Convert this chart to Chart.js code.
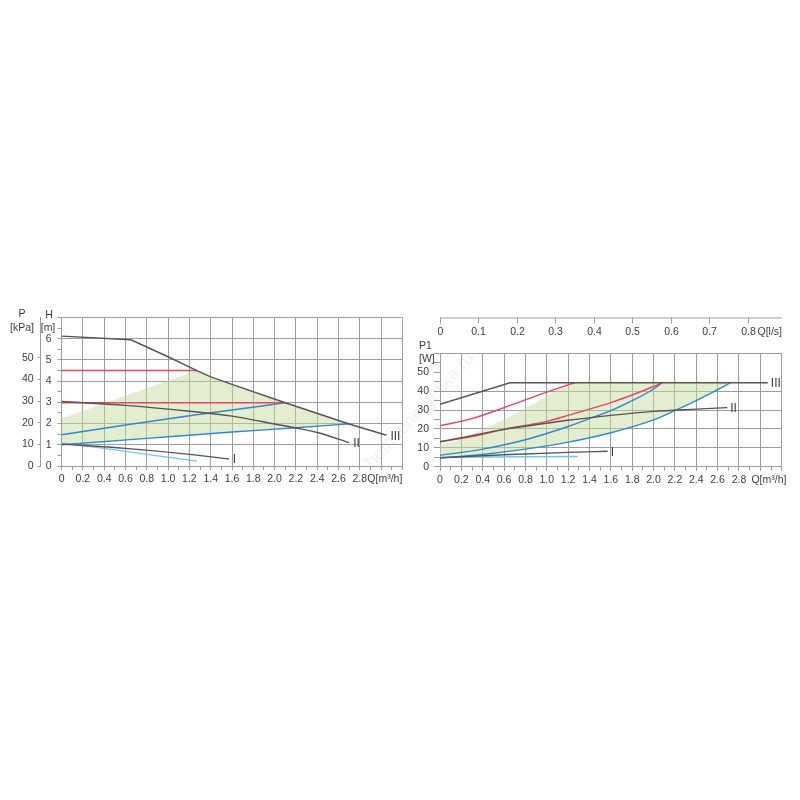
<!DOCTYPE html>
<html>
<head>
<meta charset="utf-8">
<script src="https://cdn.jsdelivr.net/npm/chart.js@4"></script>
<style>
  html, body { margin: 0; padding: 0; background: #fff; }
  #wrap { position: relative; width: 800px; height: 800px; overflow: hidden; }
  #left { position: absolute; left: 0; top: 300px; }
  #right { position: absolute; left: 400px; top: 300px; }
  #wm { position: absolute; left: 420px; top: 410px; transform: translate(-50%, -50%) rotate(-47deg);
        font: 18px "Liberation Sans", Arial, sans-serif; color: rgba(0,0,0,0.06); white-space: nowrap; }
</style>
</head>
<body>
<div id="wrap">
  <canvas id="left" width="410" height="200"></canvas>
  <canvas id="right" width="400" height="200"></canvas>
  <div id="wm">homeenergetika.ru</div>
</div>
<script>
// ---------- axis labels ----------
const qLabels = ['0','0.2','0.4','0.6','0.8','1.0','1.2','1.4','1.6','1.8','2.0','2.2','2.4','2.6','2.8'];
const qUnit = 'Q[m³/h]';
const hLabels = ['0','1','2','3','4','5','6'];
const pKpaLabels = [0, 10, 20, 30, 40, 50];
const p1Labels = [0, 10, 20, 30, 40, 50];
const lsTicks = [0, 0.1, 0.2, 0.3, 0.4, 0.5, 0.6, 0.7, 0.8];
const lsUnit = 'Q[l/s]';

// ---------- left chart: head H [m] vs Q [m3/h] ----------
const hIII = [[0,6.12],[0.65,5.95],[1.0,5.15],[1.27,4.5],[1.4,4.2],[1.6,3.85],[2.1,2.98],[2.7,1.98],[3.05,1.45]];
const hII = [[0,3.04],[0.6,2.86],[1.2,2.58],[1.6,2.35],[2.0,1.98],[2.4,1.58],[2.7,1.1]];
const hI = [[0,1.03],[0.6,0.83],[1.2,0.55],[1.57,0.33]];
const hRedMax = [[0,4.5],[1.27,4.5]];
const hRedMid = [[0,2.98],[2.1,2.98]];
const hBlueUpper = [[0,1.47],[0.6,1.93],[1.2,2.37],[1.6,2.64],[2.1,2.98]];
const hBlueLower = [[0,1.0],[0.8,1.3],[1.6,1.6],[2.2,1.8],[2.71,1.99]];
const hLightBlue = [[0,1.08],[0.4,0.83],[0.8,0.55],[1.27,0.23]];
const hAreaTop = [[0,2.24],[1.27,4.5],[1.4,4.2],[1.6,3.85],[2.1,2.98],[2.71,1.99]];

// ---------- right chart: power P1 [W] vs Q [m3/h] ----------
const pIII = [[0,33.1],[0.655,44.5],[3.07,44.5]];
const pII = [[0,13.2],[0.3,16.5],[0.6,19.8],[1.0,23],[1.2,24.6],[1.6,27.2],[2.0,29.3],[2.4,30.5],[2.69,31.3]];
const pI = [[0,4.7],[0.6,6.3],[1.2,7.6],[1.57,8.2]];
const pRedMax = [[0,21.7],[0.3,25.5],[0.6,31.3],[0.9,37.5],[1.1,41.5],[1.26,44.5]];
const pRedMid = [[0,13.2],[0.3,16],[0.6,19.8],[1.0,24],[1.2,27.2],[1.4,30.5],[1.6,34],[1.8,38],[2.0,42.5],[2.08,44.5]];
const pBlueUpper = [[0,6],[0.4,9.3],[0.8,14.3],[1.2,21.3],[1.45,26.5],[1.6,29.7],[1.8,35],[2.0,41.2],[2.08,44.5]];
const pBlueLower = [[0,4.6],[0.4,6.5],[0.8,9.3],[1.2,13],[1.6,18],[2.0,24.8],[2.2,29.8],[2.4,35],[2.6,40.8],[2.72,44.5]];
const pLightBlue = [[0,5.0],[1.29,5.4]];
const pAreaTop = [[0,11.5],[0.2,14.5],[0.43,20.5],[0.62,25.5],[0.9,34],[1.1,41],[1.22,44.5],[2.72,44.5]];

// ---------- styles ----------
const DARK = '#585354', RED = '#e6475f', BLUE = '#3089cc', LBLUE = '#6dc8ef';
const GREEN = 'rgba(196, 218, 156, 0.48)', GRID = '#9d9d9d', TEXT = '#3c3c3c', NONE = 'rgba(0,0,0,0)';
const FONT = '"Liberation Sans", Arial, sans-serif';
const FS = 10.5;
Chart.defaults.font.family = FONT;
Chart.defaults.color = TEXT;

function pts(arr) { return arr.map(([x, y]) => ({ x, y })); }
function line(arr, color, extra) {
  return Object.assign({ data: pts(arr), borderColor: color, borderWidth: 1.4, pointRadius: 0,
    showLine: true, fill: false, tension: 0 }, extra || {});
}
function area(top, bottom) {
  const poly = [bottom[0]].concat(top, bottom.slice().reverse());
  return { data: pts(poly), showLine: true, fill: 'shape', backgroundColor: GREEN, borderWidth: 0,
    borderColor: NONE, pointRadius: 0, tension: 0, order: 100 };
}

function qScale(unitPos, height) {
  return {
    type: 'linear', min: 0, max: 3.2, position: 'bottom',
    afterBuildTicks: s => {
      const t = [];
      for (let i = 0; i <= 32; i++) t.push({ value: i / 10 });
      t.push({ value: unitPos });
      t.sort((a, b) => a.value - b.value);
      s.ticks = t;
    },
    afterFit: s => { s.height = height; },
    ticks: {
      autoSkip: false, maxRotation: 0, minRotation: 0, padding: 3, color: TEXT, font: { size: FS },
      callback: (v, i, arr) => {
        if (Math.abs(v - unitPos) < 1e-9 && arr.filter(t => Math.abs(t.value - unitPos) < 1e-9).length && i === arr.findIndex(t => Math.abs(t.value - unitPos) < 1e-9) && Math.abs(v * 10 - Math.round(v * 10)) > 1e-6) return qUnit;
        const k = Math.round(v * 10);
        if (Math.abs(v * 10 - k) > 1e-6) return qUnit;
        if (k % 2 === 0 && k / 2 < qLabels.length) return qLabels[k / 2];
        return '';
      }
    },
    grid: {
      color: c => {
        if (!c.tick) return GRID;
        const v = c.tick.value, k = Math.round(v * 10);
        return (Math.abs(v * 10 - k) < 1e-6 && k % 2 === 0) ? GRID : NONE;
      },
      tickColor: c => {
        if (!c.tick) return GRID;
        const v = c.tick.value;
        return Math.abs(v * 10 - Math.round(v * 10)) > 1e-6 ? NONE : GRID;
      },
      tickLength: 4, lineWidth: 1, drawTicks: true
    },
    border: { display: true, color: GRID }
  };
}

const textPlugin = {
  id: 'texts',
  afterDraw(chart, args, opts) {
    const ctx = chart.ctx;
    ctx.save();
    ctx.fillStyle = TEXT;
    for (const it of (opts.items || [])) {
      ctx.font = (it.size || FS) + 'px ' + FONT;
      ctx.textAlign = it.align || 'center';
      ctx.textBaseline = 'middle';
      ctx.fillText(it.text, it.x, it.y);
    }
    ctx.restore();
  }
};
const endLabelPlugin = {
  id: 'endLabels',
  afterDatasetsDraw(chart, args, opts) {
    const ctx = chart.ctx;
    ctx.save();
    ctx.fillStyle = TEXT;
    ctx.font = '12px ' + FONT;
    ctx.textAlign = 'left';
    ctx.textBaseline = 'middle';
    chart.data.datasets.forEach((ds, i) => {
      if (!ds.endLabel) return;
      const meta = chart.getDatasetMeta(i);
      const p = meta.data[meta.data.length - 1];
      ctx.fillText(ds.endLabel, p.x + (opts.gap || 4), p.y + 1);
    });
    ctx.restore();
  }
};
const topAxisPlugin = {
  id: 'topAxis',
  afterDraw(chart, args, opts) {
    if (!opts.enabled) return;
    const x = chart.scales.x, ctx = chart.ctx, y0 = opts.y;
    ctx.save();
    ctx.strokeStyle = GRID; ctx.lineWidth = 1;
    ctx.beginPath();
    ctx.moveTo(x.left, y0 + 0.5); ctx.lineTo(x.right, y0 + 0.5);
    ctx.stroke();
    ctx.fillStyle = TEXT; ctx.font = FS + 'px ' + FONT; ctx.textBaseline = 'middle';
    let lastPx = 0;
    lsTicks.forEach(v => {
      const px = Math.round(x.getPixelForValue(v * 3.6)) + 0.5;
      ctx.beginPath(); ctx.moveTo(px, y0); ctx.lineTo(px, y0 + 6); ctx.stroke();
      ctx.textAlign = 'center';
      ctx.fillText(String(v), px, y0 + 15);
      lastPx = px;
    });
    ctx.textAlign = 'left';
    ctx.fillText(lsUnit, lastPx + 9, y0 + 15);
    ctx.restore();
  }
};

// ---------- left chart ----------
new Chart(document.getElementById('left'), {
  type: 'scatter',
  data: { datasets: [
    line(hIII, DARK, { endLabel: 'III' }),
    line(hII, DARK, { endLabel: 'II', cubicInterpolationMode: 'monotone' }),
    line(hI, DARK, { endLabel: 'I', cubicInterpolationMode: 'monotone' }),
    line(hRedMax, RED),
    line(hRedMid, RED),
    line(hBlueUpper, BLUE, { cubicInterpolationMode: 'monotone' }),
    line(hBlueLower, BLUE, { cubicInterpolationMode: 'monotone' }),
    line(hLightBlue, LBLUE, { cubicInterpolationMode: 'monotone' }),
    area(hAreaTop, hBlueLower)
  ]},
  options: {
    responsive: false, animation: false, events: [],
    layout: { padding: { left: 0, top: 17.5, right: 7.6, bottom: 0 } },
    plugins: {
      legend: { display: false }, tooltip: { enabled: false },
      endLabels: { gap: 4 },
      texts: { items: [
        { text: 'P', x: 22, y: 14 }, { text: '[kPa]', x: 22, y: 28 },
        { text: 'H', x: 49, y: 15 }, { text: '[m]', x: 48, y: 28 }
      ]},
      topAxis: { enabled: false }
    },
    scales: {
      x: qScale(3.035, 34),
      y: {
        type: 'linear', position: 'left', min: 0, max: 7, weight: 0,
        afterBuildTicks: s => { const t = []; for (let i = 0; i <= 14; i++) t.push({ value: i / 2 }); s.ticks = t; },
        afterFit: s => { s.width = 21; },
        ticks: { autoSkip: false, padding: 6, font: { size: FS }, color: TEXT,
          callback: v => (Number.isInteger(v) && v < hLabels.length) ? hLabels[v] : '' },
        grid: { color: c => (c.tick && !Number.isInteger(c.tick.value)) ? NONE : GRID, tickColor: GRID, tickLength: 4 },
        border: { display: true, color: GRID }
      },
      p: {
        type: 'linear', position: 'left', min: 0, max: 7 * 9.80665, weight: 10,
        afterBuildTicks: s => { s.ticks = pKpaLabels.map(v => ({ value: v })); },
        afterFit: s => { s.width = 40.6; },
        ticks: { autoSkip: false, padding: 4, font: { size: FS }, color: TEXT },
        grid: { drawOnChartArea: false, tickColor: GRID, tickLength: 3 },
        border: { display: true, color: GRID }
      }
    }
  },
  plugins: [textPlugin, endLabelPlugin, topAxisPlugin]
});

// ---------- right chart ----------
new Chart(document.getElementById('right'), {
  type: 'scatter',
  data: { datasets: [
    line(pIII, DARK, { endLabel: 'III' }),
    line(pII, DARK, { endLabel: 'II', cubicInterpolationMode: 'monotone' }),
    line(pI, DARK, { endLabel: 'I', cubicInterpolationMode: 'monotone' }),
    line(pRedMax, RED, { cubicInterpolationMode: 'monotone' }),
    line(pRedMid, RED, { cubicInterpolationMode: 'monotone' }),
    line(pBlueUpper, BLUE, { cubicInterpolationMode: 'monotone' }),
    line(pBlueLower, BLUE, { cubicInterpolationMode: 'monotone' }),
    line(pLightBlue, LBLUE),
    area(pAreaTop, pBlueLower)
  ]},
  options: {
    responsive: false, animation: false, events: [],
    layout: { padding: { left: 0, top: 53.5, right: 18.3, bottom: 0 } },
    plugins: {
      legend: { display: false }, tooltip: { enabled: false },
      endLabels: { gap: 3 },
      texts: { items: [
        { text: 'P1', x: 19, y: 46, align: 'left' }, { text: '[W]', x: 19, y: 59, align: 'left' }
      ]},
      topAxis: { enabled: true, y: 17.5 }
    },
    scales: {
      x: qScale(3.08, 33.3),
      y: {
        type: 'linear', position: 'left', min: 0, max: 60,
        afterBuildTicks: s => { const t = []; for (let i = 0; i <= 12; i++) t.push({ value: i * 5 }); s.ticks = t; },
        afterFit: s => { s.width = 40; },
        ticks: { autoSkip: false, padding: 5, font: { size: FS }, color: TEXT,
          callback: v => p1Labels.includes(v) ? String(v) : '' },
        grid: { color: c => (c.tick && (c.tick.value % 10 !== 0 || c.tick.value === 50)) ? NONE : GRID,
          tickColor: GRID, tickLength: 6 },
        border: { display: true, color: GRID }
      }
    }
  },
  plugins: [textPlugin, endLabelPlugin, topAxisPlugin]
});
</script>
</body>
</html>
